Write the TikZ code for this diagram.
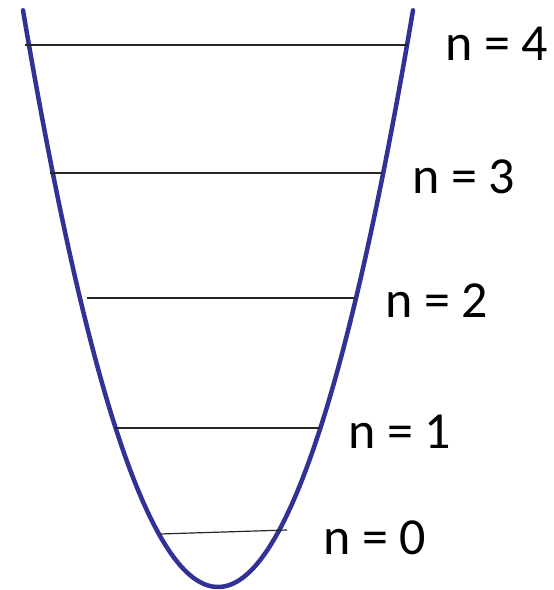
\documentclass[tikz,border=0pt]{standalone}
\usepackage{fontspec}
\setmainfont{Carlito}
\usepackage{tikz}
\usetikzlibrary{positioning}
\definecolor{wellblue}{RGB}{50,50,150}

\begin{document}
\begin{tikzpicture}[x=1pt,y=-1pt,line join=round,
  level/.style={line width=1.2pt,black!85},
  lbl/.style={anchor=base west,inner sep=0pt,font=\fontsize{52}{60}\selectfont}]
\useasboundingbox (0,0) rectangle (554,590);
% potential well
\draw[wellblue,line width=4.5pt,line cap=round] plot[domain=-195:195,samples=100,smooth] ({218+\x},{587-(\x/8.12)^2});
% energy levels
\draw[level] (25,45) -- (408,45);
\draw[level] (50,173) -- (382,173);
\draw[level] (87,298) -- (355,298);
\draw[level] (115,428) -- (320,428);
\draw[level] (160,534) -- (287,530);
% labels
\node[lbl] (n4) at (445,60) {n = 4};
\node[lbl] (n3) at (412,193) {n = 3};
\node[lbl] (n2) at (385,317) {n = 2};
\node[lbl] (n1) at (348,448) {n = 1};
\node[lbl] (n0) at (323,554) {n = 0};
\end{tikzpicture}
\end{document}
